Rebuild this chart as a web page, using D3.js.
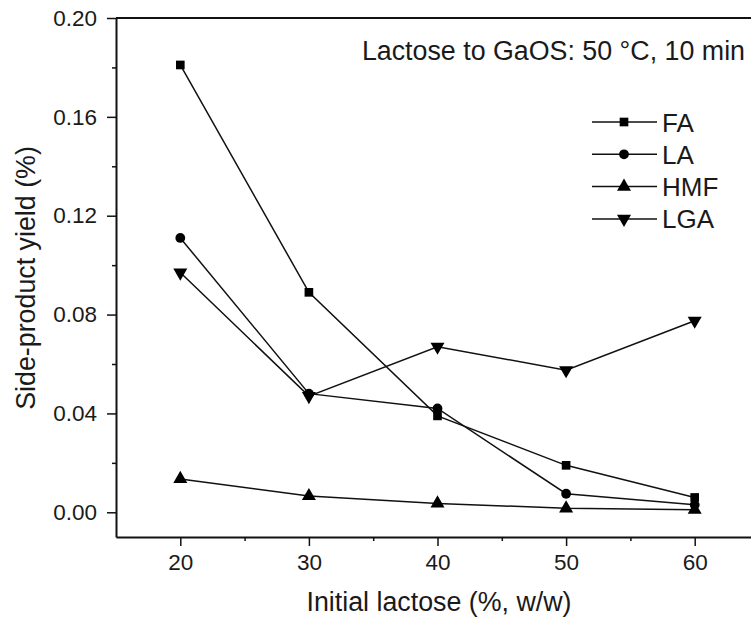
<!DOCTYPE html>
<html>
<head>
<meta charset="utf-8">
<script src="https://cdn.jsdelivr.net/npm/d3@7"></script>
<style>
  html, body { margin: 0; padding: 0; background: #fff; }
  svg { display: block; }
  text { font-family: "Liberation Sans", Arial, sans-serif; fill: #1a1a1a; }
</style>
</head>
<body>
<svg id="chart" width="751" height="621"></svg>
<script>
const xValues = [20, 30, 40, 50, 60];
const seriesNames = ["FA", "LA", "HMF", "LGA"];
const FA  = [0.181, 0.089, 0.039, 0.019, 0.006];
const LA  = [0.111, 0.048, 0.042, 0.0075, 0.003];
const HMF = [0.0135, 0.0066, 0.0036, 0.0016, 0.001];
const LGA = [0.097, 0.047, 0.067, 0.0575, 0.0775];
const yTickValues = [0.00, 0.04, 0.08, 0.12, 0.16, 0.20];
const yTickLabels = ["0.00", "0.04", "0.08", "0.12", "0.16", "0.20"];
const yMinorTicks = [0.02, 0.06, 0.10, 0.14, 0.18];
const xTickValues = [20, 30, 40, 50, 60];
const xMinorTicks = [25, 35, 45, 55];
const annotation = "Lactose to GaOS: 50 \u00B0C, 10 min";
const xTitle = "Initial lactose (%, w/w)";
const yTitle = "Side-product yield (%)";

const seriesData = [FA, LA, HMF, LGA];
const symbols = [d3.symbolSquare, d3.symbolCircle, d3.symbolTriangle, d3.symbolTriangle];
const symSizes = [75, 75, 85, 85];
const symRot = [0, 0, 0, 180];

const svg = d3.select("#chart");
const pLeft = 116, pTop = 18, pBottom = 537, pRight = 759;

const x = d3.scaleLinear().domain([15, 65]).range([pLeft, pRight]);
const y = d3.scaleLinear().domain([-0.01, 0.20]).range([pBottom, pTop]);

// top frame line
svg.append("line")
  .attr("x1", pLeft).attr("x2", pRight).attr("y1", pTop).attr("y2", pTop)
  .attr("stroke", "#111").attr("stroke-width", 2);

// Y axis
const yAxis = svg.append("g").attr("transform", `translate(${pLeft},0)`)
  .call(d3.axisLeft(y).tickValues(yTickValues)
        .tickFormat((d, i) => yTickLabels[i]).tickSize(9).tickSizeOuter(0).tickPadding(10));
yAxis.select(".domain").attr("stroke", "#111").attr("stroke-width", 2);
yAxis.selectAll(".tick line").attr("stroke", "#111").attr("stroke-width", 1.5);
yAxis.selectAll(".tick text").style("font-size", "22.5px").style("font-family", "Liberation Sans, Arial, sans-serif").attr("fill", "#1a1a1a");
const yMinor = svg.append("g").attr("transform", `translate(${pLeft},0)`)
  .call(d3.axisLeft(y).tickValues(yMinorTicks).tickFormat("").tickSize(4).tickSizeOuter(0));
yMinor.select(".domain").remove();
yMinor.selectAll(".tick line").attr("stroke", "#111").attr("stroke-width", 1.5);

// X axis
const xAxis = svg.append("g").attr("transform", `translate(0,${pBottom})`)
  .call(d3.axisBottom(x).tickValues(xTickValues).tickFormat(d3.format("d"))
        .tickSize(9).tickSizeOuter(0).tickPadding(8));
xAxis.select(".domain").attr("stroke", "#111").attr("stroke-width", 2);
xAxis.selectAll(".tick line").attr("stroke", "#111").attr("stroke-width", 1.5);
xAxis.selectAll(".tick text").style("font-size", "22.5px").style("font-family", "Liberation Sans, Arial, sans-serif").attr("fill", "#1a1a1a");
const xMinor = svg.append("g").attr("transform", `translate(0,${pBottom})`)
  .call(d3.axisBottom(x).tickValues(xMinorTicks).tickFormat("").tickSize(4).tickSizeOuter(0));
xMinor.select(".domain").remove();
xMinor.selectAll(".tick line").attr("stroke", "#111").attr("stroke-width", 1.5);

// Series lines and markers
const line = d3.line().x((d, i) => x(xValues[i])).y(d => y(d));
seriesData.forEach((vals, s) => {
  svg.append("path").datum(vals)
    .attr("d", line).attr("fill", "none")
    .attr("stroke", "#111").attr("stroke-width", 1.5);
});
seriesData.forEach((vals, s) => {
  const sym = d3.symbol().type(symbols[s]).size(symSizes[s]);
  svg.selectAll(null).data(vals).enter().append("path")
    .attr("d", sym)
    .attr("transform", (d, i) => `translate(${x(xValues[i])},${y(d)}) rotate(${symRot[s]})`)
    .attr("fill", "#000");
});

// Annotation
svg.append("text").attr("x", 745).attr("y", 60)
  .attr("text-anchor", "end").style("font-size", "26.8px").text(annotation);

// Legend
const legY0 = 122, legDy = 32.3;
seriesNames.forEach((name, s) => {
  const ly = legY0 + s * legDy;
  svg.append("line").attr("x1", 592).attr("x2", 657).attr("y1", ly).attr("y2", ly)
    .attr("stroke", "#111").attr("stroke-width", 1.5);
  svg.append("path")
    .attr("d", d3.symbol().type(symbols[s]).size(symSizes[s]))
    .attr("transform", `translate(624,${ly}) rotate(${symRot[s]})`)
    .attr("fill", "#000");
  svg.append("text").attr("x", 662).attr("y", ly + 9.5)
    .style("font-size", "26px").text(name);
});

// Axis titles
svg.append("text").attr("x", 439).attr("y", 611)
  .attr("text-anchor", "middle").style("font-size", "26.8px").text(xTitle);
svg.append("text").attr("transform", "translate(35,278) rotate(-90)")
  .attr("text-anchor", "middle").style("font-size", "26.8px").text(yTitle);
</script>
</body>
</html>
